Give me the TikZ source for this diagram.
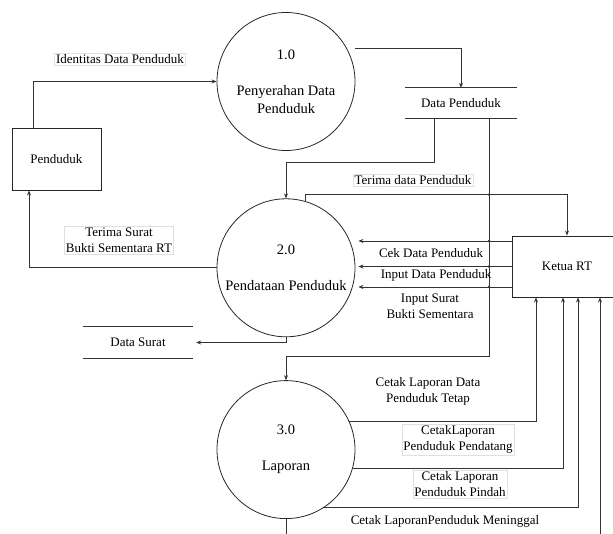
\documentclass[tikz,border=0pt]{standalone}
\usepackage{fontspec}
\setmainfont{Liberation Serif}
\usetikzlibrary{arrows.meta,positioning}
\tikzset{%
    >={Stealth[length=5pt,width=4pt]},
    every node/.style={font=\fontsize{13}{16}\selectfont},
    line/.style={draw=black!80,line width=0.8pt},
    proc/.style={circle,draw=black!85,line width=0.8pt,minimum size=138pt,inner sep=0pt},
    proctxt/.style={align=center,font=\fontsize{14.5}{18}\selectfont},
    entity/.style={rectangle,draw=black!85,line width=0.9pt,inner sep=0pt},
    store/.style={minimum height=30pt,inner sep=0pt},
    lbl/.style={align=center,inner sep=1.5pt},
    lblbox/.style={lbl,draw=black!12,fill=white},
    hop/.style={fill=black!80}
}

\begin{document}
\begin{tikzpicture}[x=1pt,y=1pt,node distance=45pt]
            \useasboundingbox (0,0) rectangle (613,-534);
            % processes
            \node [proc] (p1) at (286,-81.5) {};
            \node [proc,below=47.5pt of p1] (p2) {};
            \node [proc,below=43pt of p2] (p3) {};
            \node [proctxt] (p1t) at (p1) {1.0\\[18pt]Penyerahan Data\\Penduduk};
            \node [proctxt] (p2t) at (p2) {2.0\\[18pt]Pendataan Penduduk};
            \node [proctxt] (p3t) at (p3) {3.0\\[18pt]Laporan};
            % entities and stores
            \node [entity,minimum width=89pt,minimum height=62pt] (pend) at (56.5,-159) {Penduduk};
            \node [entity,minimum width=110pt,minimum height=61pt] (ketua) at (567,-266.5) {Ketua RT};
            \node [store,minimum width=112pt] (ds) at (461,-103) {Data Penduduk};
            \node [store,minimum width=110pt,minimum height=31pt] (dsurat) at (138,-342.5) {Data Surat};
            \draw[line] (ds.north west) -- (ds.north east) (ds.south west) -- (ds.south east);
            \draw[line] (dsurat.north west) -- (dsurat.north east) (dsurat.south west) -- (dsurat.south east);
            %%%%%
            \coordinate (vdown) at ([xshift=28pt]ds.south);
            \coordinate (p2in) at ([xshift=3pt]p2.east);
            \draw[line,->] ([xshift=-23.5pt]pend.north) |- (p1);
            \draw[line,->] ([yshift=33pt]p1.east) -| (ds.north);
            \draw[line,->] ([xshift=-27pt]ds.south) |- ([yshift=36pt]p2.north) -- (p2.north);
            \draw[line,->] (vdown) |- ([yshift=23.5pt]p3.north) -- (p3.north);
            \draw[line,->] (p2.74) |- ([yshift=41pt]ketua.north) coordinate (kup) -- (ketua.north);
            \draw[line,->] ([yshift=25.5pt]ketua.west) coordinate (kcek) -- (kcek -| p2in);
            \draw[line,->] (ketua.west) coordinate (kin) -- (kin -| p2in);
            \draw[line,->] ([yshift=-20.5pt]ketua.west) coordinate (kins) -- (kins -| p2in);
            \draw[line,->] (p2.west) -| ([xshift=-27.5pt]pend.south);
            \draw[line,->] (p2.south) |- ([xshift=3pt]dsurat.east);
            \draw[line,->] (p3.24) -| ([xshift=-31pt]ketua.south);
            \draw[line,->] (p3.-16) -| ([xshift=-4pt]ketua.south);
            \draw[line,->] (p3.-57) -| ([xshift=11pt]ketua.south);
            \coordinate [below=30pt of p3.south] (mgl);
            \draw[line,->] (p3.south) -- (mgl) -| ([xshift=33pt]ketua.south);
            % crossings
            \fill[hop] (vdown |- kup) circle (1.3pt) (vdown |- kcek) circle (1.3pt)
            (vdown |- kin) circle (1.3pt) (vdown |- kins) circle (1.3pt);
            % flow labels
            \node [lblbox] (lidt) at (120,-59) {Identitas Data Penduduk};
            \node [lblbox] (lterima) at (413,-180) {Terima data Penduduk};
            \node [lblbox] (lsurat) at (119,-240.5) {Terima Surat\\Bukti Sementara RT};
            \node [lbl] (lcek) at (431,-253) {Cek Data Penduduk};
            \node [lbl] (linput) at (436,-275) {Input Data Penduduk};
            \node [lbl] (linsurat) at (430,-306.5) {Input Surat\\Bukti Sementara};
            \node [lbl] (ltetap) at (428,-391) {Cetak Laporan Data\\Penduduk Tetap};
            \node [lblbox] (ldatang) at (458,-439.5) {CetakLaporan\\Penduduk Pendatang};
            \node [lblbox] (lpindah) at (460,-484.5) {Cetak Laporan\\Penduduk Pindah};
            \node [lbl] (lmati) at (445,-521) {Cetak LaporanPenduduk Meninggal};
\end{tikzpicture}
\end{document}
